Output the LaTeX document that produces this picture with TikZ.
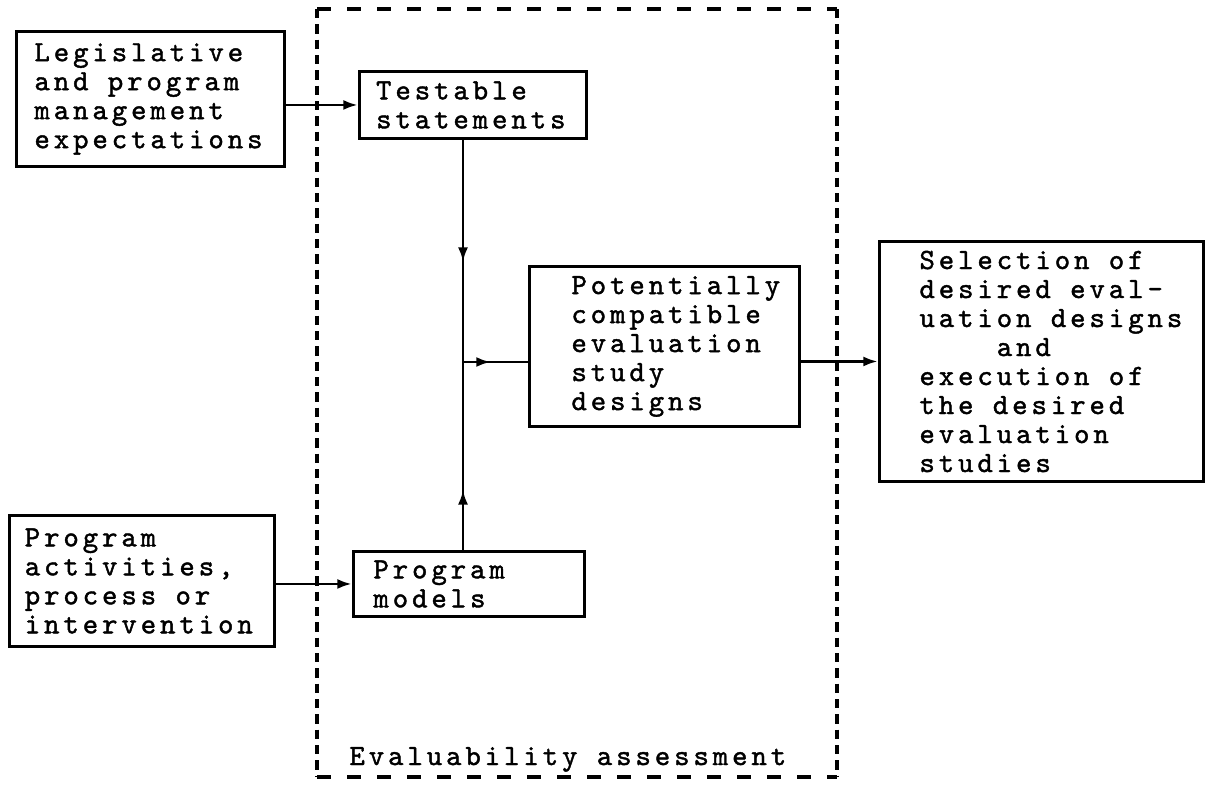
\documentclass[tikz,border=0pt]{standalone}
\usepackage{fontspec}
\setmonofont{lmmono10-regular.otf}[LetterSpace=13.4,FakeBold=1.4]
\usetikzlibrary{arrows.meta,decorations.markings}

\newcommand\tw{\fontsize{22}{21.75}\selectfont\ttfamily\spaceskip=14.5pt\relax}

\tikzset{every picture/.style={line width=2.2pt}}
\tikzset{
  tip/.tip={Latex[length=11pt,width=7.5pt]},
  box/.style n args={3}{draw, anchor=north west, align=left, font=\tw,
    inner xsep=1.5pt, inner ysep=1pt, text width=#1, minimum height=#2,
    execute at begin node={\leftskip=#3\hyphenpenalty=10000\spaceskip=14.5pt\relax}},
  midarrow/.style={postaction={decorate},
    decoration={markings,mark=at position #1 with {\arrow{tip}}}},
  hdash/.style={dash pattern=on 10.5pt off 12pt, line width=2.6pt},
  vdash/.style={dash pattern=on 7pt off 4.5pt, line width=2.6pt},
}

\begin{document}
\begin{tikzpicture}[x=0.75pt,y=0.75pt,yscale=-1,xscale=1]
\useasboundingbox (0,0) rectangle (1213,785);

%Evaluability frame
\draw [hdash] (317,9) -- (837,9);
\draw [vdash] (837,9) -- (837,777);
\draw [hdash] (317,777) -- (837,777);
\draw [vdash] (317,9) -- (317,777);
\node [anchor=base west, inner sep=0pt, font=\tw] (ealabel) at (348,765) {Evaluability assessment};

% Boxes
\node [box={198pt}{101.25pt}{12pt}] (legis) at (15,30) {Legislative\\and~program\\management\\expectations};
\node [box={167pt}{50.25pt}{11pt}] (testable) at (358,70) {Testable\\statements};
\node [box={199.5pt}{120pt}{30pt}] (potential) at (528,265) {Potentially\\compatible\\evaluation\\study\\designs};
\node [box={240pt}{180pt}{28.5pt}] (select) at (878,240) {Selection~of\\desired~eval-\\uation~designs\\\hspace*{58pt}and\\execution~of\\the~desired\\evaluation\\studies};
\node [box={195.75pt}{98.25pt}{10pt}] (progact) at (8,514) {Program\\activities,\\process~or\\intervention};
\node [box={170.25pt}{48.75pt}{13.5pt}] (models) at (352,550) {Program\\models};

% Connectors
\coordinate (join) at (463,362);
\draw [-tip] (legis.east |- testable.west) -- (testable.west);
\draw [-tip] (progact.east |- models.west) -- (models.west);
\draw [midarrow=0.55] (testable.south -| join) -- (join);
\draw [midarrow=0.32] (models.north -| join) -- (join);
\draw [midarrow=0.43] (join) -- (join -| potential.west);
\draw [-tip] (potential.east |- select.west) -- (select.west);

\end{tikzpicture}
\end{document}
